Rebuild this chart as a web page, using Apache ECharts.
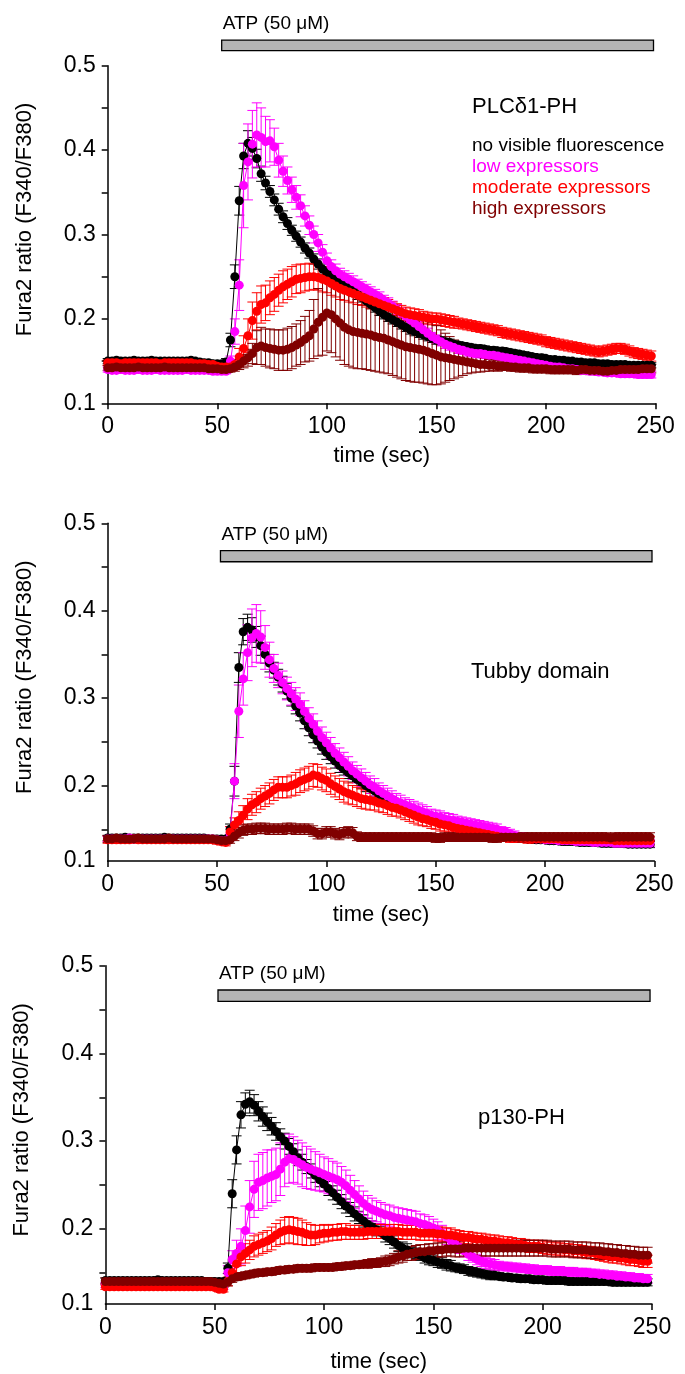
<!DOCTYPE html>
<html><head><meta charset="utf-8">
<script src="https://cdn.jsdelivr.net/npm/echarts@6/dist/echarts.min.js"></script>
<style>html,body{margin:0;padding:0;background:#fff}#c{width:685px;height:1374px}</style>
</head><body><div id="c"></div>
<script>
// ---------- data (ratio values in thousandths) ----------
const TIME = [
0,2,4,6,8,10,12,14,16,18,
20,22,24,26,28,30,32,34,36,38,
40,42,44,46,48,50,52,54,56,58,
60,62,64,66,68,70,72,74,76,78,
80,82,84,86,88,90,92,94,96,98,
100,102,104,106,108,110,112,114,116,118,
120,122,124,126,128,130,132,134,136,138,
140,142,144,146,148,150,152,154,156,158,
160,162,164,166,168,170,172,174,176,178,
180,182,184,186,188,190,192,194,196,198,
200,202,204,206,208,210,212,214,216,218,
220,222,224,226,228,230,232,234,236,238,
240,242,244,246,248];

const SERIES_NAMES = ['no visible fluorescence','low expressors','moderate expressors','high expressors'];
const PANEL_LABELS = ['PLC\u03b41-PH','Tubby domain','p130-PH'];
const ATP_LABEL = 'ATP (50 \u03bcM)';
const ATP_RANGES = [[52,249],[51.6,248.9],[51.5,249.1]];
const X_TICKS_INTERVAL = 50;
const Y_TICKS = [0.15,0.2,0.25,0.3,0.35,0.4,0.45,0.5];
const Y_LABELS = [0.2,0.3,0.4,0.5];

// Panel 1: PLCd1-PH
const P1_NONE = [
150,150,151,150,150,150,151,150,150,150,
151,150,150,150,150,150,150,150,150,151,
150,149,148,148,147,147,147,149,175,250,
340,393,408,402,390,372,361,351,341,330,
321,313,305,298,291,284,278,271,265,259,
255,251,248,245,241,237,233,229,225,221,
217,213,209,205,202,199,196,193,190,187,
185,183,181,179,177,175,174,173,172,170,
169,168,167,166,165,165,164,163,163,162,
162,161,160,159,158,157,156,155,154,154,
153,152,152,151,151,150,150,149,149,148,
148,148,147,147,147,146,146,146,146,145,
145,145,145,145,145];
const P1_NONE_ERR = [
3,3,3,3,3,3,3,3,3,3,
3,3,3,3,3,3,3,3,3,3,
3,3,3,3,3,3,3,4,8,14,
17,15,15,13,11,9,8,7,7,7,
7,7,6,6,6,6,6,6,6,6,
6,6,6,6,6,6,6,6,5,5,
5,5,5,5,5,5,5,5,5,5,
5,5,5,5,5,5,5,4,4,4,
4,4,4,4,4,4,4,4,4,4,
4,4,4,4,4,4,4,4,4,4,
3,3,3,3,3,3,3,3,3,3,
3,3,3,3,3,3,3,3,3,3,
3,3,3,3,3];
const P1_LOW = [
140,139,139,140,139,139,139,140,139,139,
139,140,139,139,139,139,139,139,140,139,
139,139,139,139,138,138,138,138,150,185,
240,358,386,407,418,415,410,411,404,388,
375,364,353,344,334,322,311,300,290,279,
269,262,257,253,250,247,244,241,238,235,
232,229,226,222,219,215,211,207,203,199,
195,191,187,183,179,176,173,170,168,166,
164,163,161,160,159,159,158,157,157,156,
155,154,153,152,151,150,149,148,147,146,
145,144,143,143,142,141,141,140,139,139,
138,138,137,137,136,136,136,135,135,135,
135,134,134,134,134];
const P1_LOW_ERR = [
3,3,3,3,3,3,3,3,3,3,
3,3,3,3,3,3,3,3,3,3,
3,3,3,3,3,3,3,3,6,15,
30,50,45,40,38,35,30,25,22,20,
18,16,15,14,13,12,11,10,10,9,
9,8,8,7,7,7,7,6,6,6,
6,6,6,6,6,6,6,6,6,6,
6,6,6,6,5,5,5,5,5,5,
5,5,5,5,5,5,5,5,5,5,
4,4,4,4,4,4,4,4,4,4,
4,4,4,4,4,4,4,4,4,4,
4,4,4,4,4,4,4,4,4,4,
4,4,4,4,4];
const P1_MOD = [
148,148,148,147,148,148,148,148,148,148,
148,148,147,148,148,148,148,148,148,148,
147,147,147,146,146,144,143,143,143,146,
155,165,180,198,209,217,219,225,229,234,
238,241,244,247,248,249,250,250,249,247,
245,242,239,236,234,232,230,228,226,224,
222,220,218,216,214,212,210,208,206,205,
204,203,202,201,200,200,199,198,197,196,
195,194,193,192,191,190,189,188,187,186,
184,183,182,181,180,179,178,177,176,175,
173,172,171,170,169,168,167,166,165,164,
163,162,161,162,163,164,165,165,164,162,
160,159,158,157,156];
const P1_MOD_ERR = [
3,3,3,3,3,3,3,3,3,3,
3,3,3,3,3,3,3,3,3,3,
3,3,3,3,3,3,3,4,5,6,
10,15,20,22,22,22,21,20,20,19,
19,18,18,17,17,16,16,15,15,15,
14,14,13,13,12,12,11,11,10,10,
10,9,9,9,9,8,8,8,8,8,
8,8,7,7,7,7,7,7,7,7,
6,6,6,6,6,6,6,6,6,6,
6,6,6,6,6,6,6,6,6,6,
6,6,6,6,6,6,6,6,6,6,
6,6,6,6,6,6,6,6,6,6,
6,6,6,6,6];
const P1_HIGH = [
142,142,143,142,142,142,142,143,142,142,
142,142,142,143,142,142,142,142,142,142,
142,142,142,141,141,141,140,140,141,143,
146,150,154,159,166,168,166,165,164,163,
163,164,166,169,172,176,180,188,196,202,
207,205,200,195,190,187,185,184,183,182,
181,179,178,177,175,173,171,169,167,166,
165,164,163,161,159,157,155,154,153,152,
151,150,149,148,147,146,146,145,145,144,
144,144,143,143,142,142,142,141,141,141,
141,140,140,140,140,140,140,139,140,140,
139,139,139,138,138,139,139,140,140,140,
140,140,141,141,141];
const P1_HIGH_ERR = [
3,3,3,3,3,3,3,3,3,3,
3,3,3,3,3,3,3,3,3,3,
3,3,3,3,3,3,3,3,4,5,
6,8,10,12,20,22,22,23,23,24,
24,25,25,25,26,27,30,35,40,45,
45,45,45,44,44,43,43,43,42,42,
42,41,41,41,40,40,40,40,40,40,
40,39,39,38,37,35,32,29,26,23,
20,17,14,12,10,9,8,7,6,6,
5,5,5,5,5,5,5,5,5,5,
5,5,5,5,5,5,5,5,5,5,
5,5,5,5,5,5,5,5,5,5,
5,5,5,5,5];

// Panel 2: Tubby domain
const P2_NONE = [
140,140,140,140,141,140,140,140,140,140,
140,140,140,141,140,140,140,140,140,140,
140,140,140,139,139,139,139,139,150,205,
335,376,381,378,370,360,350,340,332,324,
316,308,300,291,283,274,266,258,251,244,
238,233,228,223,219,215,211,207,204,200,
197,194,190,187,184,181,178,176,174,172,
170,168,166,164,162,161,159,158,156,155,
154,152,151,150,149,148,147,146,145,144,
143,142,141,141,140,140,139,139,138,138,
138,137,137,137,136,136,136,136,135,135,
135,135,135,134,134,134,134,134,134,133,
133,133,133,133,133];
const P2_NONE_ERR = [
3,3,3,3,3,3,3,3,3,3,
3,3,3,3,3,3,3,3,3,3,
3,3,3,3,3,3,3,3,6,17,
17,15,15,14,12,11,10,10,9,9,
9,9,9,9,9,9,9,9,8,8,
8,8,8,8,7,7,7,7,7,7,
6,6,6,6,6,6,6,6,6,6,
6,6,6,5,5,5,5,5,5,5,
4,4,4,4,4,4,4,4,4,4,
4,4,4,4,4,4,4,4,4,4,
4,4,4,4,4,4,4,4,4,4,
4,4,4,4,4,4,4,4,4,4,
4,4,4,4,4];
const P2_LOW = [
139,139,139,139,139,140,139,139,139,139,
139,139,139,139,139,139,139,139,139,139,
139,139,139,139,139,138,137,137,145,205,
285,322,352,369,374,370,358,344,334,326,
318,311,305,299,293,285,277,270,262,255,
249,243,237,232,227,222,217,213,209,205,
201,198,194,191,188,185,182,180,178,176,
174,172,170,168,166,165,164,162,161,160,
159,158,157,156,155,154,153,152,151,150,
148,147,145,143,141,141,140,140,139,139,
138,138,138,137,137,137,137,136,136,136,
136,135,135,135,135,135,134,134,134,134,
134,134,134,134,134];
const P2_LOW_ERR = [
3,3,3,3,3,3,3,3,3,3,
3,3,3,3,3,3,3,3,3,3,
3,3,3,3,3,3,3,3,8,20,
30,30,32,33,33,30,25,20,16,14,
13,13,13,13,13,12,12,12,12,12,
12,12,11,11,11,11,10,10,10,10,
10,10,9,9,9,9,9,9,8,8,
8,8,8,8,7,7,7,7,7,7,
6,6,6,6,6,6,6,6,6,6,
5,5,5,5,5,5,5,5,5,5,
4,4,4,4,4,4,4,4,4,4,
4,4,4,4,4,4,4,4,4,4,
4,4,4,4,4];
const P2_MOD = [
138,138,138,138,138,138,139,138,138,138,
138,138,138,138,138,138,138,138,138,138,
138,138,138,138,138,137,136,135,147,155,
160,166,173,178,181,185,188,191,195,198,
198,198,200,202,205,207,209,212,211,208,
206,202,199,196,193,191,189,187,185,184,
183,182,180,179,177,175,174,172,170,168,
166,164,162,161,159,158,156,155,154,152,
151,150,149,148,147,146,145,144,143,142,
141,141,140,140,140,140,139,139,139,139,
139,139,139,139,138,138,138,138,138,138,
138,138,138,138,138,138,137,137,137,137,
137,137,137,137,137];
const P2_MOD_ERR = [
4,4,4,4,4,4,4,4,4,4,
4,4,4,4,4,4,4,4,4,4,
4,4,4,4,4,4,4,4,6,8,
10,11,12,12,12,12,12,12,12,12,
12,12,12,13,13,13,13,13,13,13,
13,12,12,12,12,12,11,11,11,11,
11,10,10,10,10,10,9,9,9,9,
9,9,8,8,8,8,8,7,7,7,
7,7,7,6,6,6,6,6,6,6,
5,5,5,5,5,5,5,5,5,5,
5,5,5,5,5,5,5,5,5,5,
5,5,5,5,5,5,5,5,5,5,
5,5,5,5,5];
const P2_HIGH = [
139,139,140,139,139,139,139,140,139,139,
139,139,139,139,140,139,139,139,139,139,
139,139,139,139,139,138,137,137,138,142,
146,149,150,150,151,151,151,150,150,150,
150,151,151,150,150,150,150,148,145,145,
147,147,145,144,146,147,146,142,141,141,
141,141,141,141,141,141,141,141,141,141,
141,141,141,141,141,140,140,141,141,141,
141,141,141,141,141,141,141,141,140,140,
141,141,141,141,141,141,141,141,141,141,
141,141,141,141,141,141,141,141,141,141,
141,141,141,141,141,140,141,141,141,141,
141,141,141,141,141];
const P2_HIGH_ERR = [
4,4,4,4,4,4,4,4,4,4,
4,4,4,4,4,4,4,4,4,4,
4,4,4,4,4,4,4,4,4,5,
6,6,6,6,6,6,6,6,6,6,
6,6,6,6,6,6,6,6,6,6,
6,6,6,6,6,6,6,5,5,5,
5,5,5,5,5,5,5,5,5,5,
5,5,5,5,5,5,5,5,5,5,
5,5,5,5,5,5,5,5,5,5,
5,5,5,5,5,5,5,5,5,5,
5,5,5,5,5,5,5,5,5,5,
5,5,5,5,5,5,5,5,5,5,
5,5,5,5,5];

// Panel 3: p130-PH
const P3_NONE = [
141,141,141,141,141,141,141,141,141,141,
141,141,142,141,141,141,141,141,141,141,
141,141,141,140,140,140,140,140,155,240,
290,330,342,345,341,334,328,322,317,311,
305,300,294,288,281,276,271,266,261,256,
251,246,241,236,231,226,222,217,213,209,
205,202,199,196,192,189,185,181,178,176,
173,172,170,167,165,164,162,161,159,158,
156,155,154,152,151,150,149,148,147,147,
146,145,145,144,144,143,143,143,142,142,
142,141,141,141,141,141,140,140,140,140,
140,140,140,140,140,140,139,139,139,139,
139,139,139,139,139];
const P3_NONE_ERR = [
3,3,3,3,3,3,3,3,3,3,
3,3,3,3,3,3,3,3,3,3,
3,3,3,3,3,3,3,3,6,16,
16,15,13,13,12,11,11,10,10,10,
9,9,9,9,9,9,8,8,8,8,
8,8,8,8,8,8,8,8,7,7,
7,7,7,7,7,7,7,7,7,7,
6,6,6,6,6,6,6,6,6,6,
5,5,5,5,5,5,5,5,5,5,
4,4,4,4,4,4,4,4,4,4,
4,4,4,4,4,4,4,4,4,4,
4,4,4,4,4,4,4,4,4,4,
4,4,4,4,4];
const P3_LOW = [
136,136,136,136,136,136,137,136,136,136,
136,136,136,136,136,136,136,136,136,136,
136,136,136,136,135,135,134,134,150,165,
172,180,198,225,245,253,255,258,260,262,
268,276,280,279,276,273,270,268,266,264,
262,260,258,256,253,249,244,239,234,229,
225,222,220,218,216,215,213,212,211,210,
209,208,206,205,203,201,198,195,191,187,
183,179,175,171,168,165,163,161,160,159,
158,157,157,156,156,155,155,154,154,153,
153,153,152,152,152,151,151,151,150,150,
150,149,149,148,148,147,147,146,146,145,
145,144,144,143,143];
const P3_LOW_ERR = [
3,3,3,3,3,3,3,3,3,3,
3,3,3,3,3,3,3,3,3,3,
3,3,3,3,3,3,3,3,8,10,
15,20,28,30,32,32,32,32,30,30,
30,28,28,26,25,25,24,23,22,21,
20,20,19,19,18,18,17,16,15,14,
13,13,12,12,12,12,12,12,12,12,
12,12,11,11,11,10,10,9,9,8,
8,7,7,7,6,6,6,6,6,6,
5,5,5,5,5,5,5,5,5,5,
5,5,5,5,5,5,5,5,5,5,
5,5,5,5,5,5,5,5,5,5,
5,5,5,5,5];
const P3_MOD = [
134,134,134,134,134,134,134,134,134,134,
134,134,134,134,134,134,134,134,134,134,
134,134,134,134,134,133,131,131,140,150,
160,168,172,176,180,182,184,186,189,193,
196,198,199,198,197,196,194,193,193,194,
195,195,196,196,197,197,196,196,196,196,
197,197,197,197,197,197,197,197,196,196,
196,196,195,195,195,195,194,194,193,193,
192,191,190,190,189,188,188,187,186,186,
185,184,184,183,182,182,181,180,180,180,
179,178,178,177,177,176,176,175,175,174,
173,173,172,171,170,169,168,168,167,166,
165,165,164,163,163];
const P3_MOD_ERR = [
3,3,3,3,3,3,3,3,3,3,
3,3,3,3,3,3,3,3,3,3,
3,3,3,3,3,3,3,3,5,8,
10,10,11,11,12,12,12,12,13,13,
14,15,15,15,15,14,13,12,11,10,
10,9,9,9,9,9,8,8,8,8,
8,8,8,8,8,8,8,8,8,8,
8,8,8,8,8,8,8,8,8,8,
7,7,7,7,7,7,7,7,7,7,
7,7,7,7,7,7,7,7,7,7,
7,7,7,7,7,7,7,7,7,7,
7,7,7,7,7,7,7,7,7,7,
7,7,7,7,7];
const P3_HIGH = [
140,140,140,140,140,140,140,140,140,140,
140,140,140,140,140,140,140,140,140,140,
140,140,140,140,140,139,138,137,139,143,
145,146,147,148,149,150,150,151,151,152,
153,153,154,154,155,155,155,155,156,156,
156,156,156,157,157,158,158,159,159,160,
160,161,161,162,163,164,166,168,169,171,
172,173,174,174,175,175,176,176,177,177,
177,177,178,178,178,178,178,178,178,178,
178,178,178,178,178,178,178,178,178,178,
178,178,177,177,177,177,177,176,176,176,
176,175,175,175,174,174,173,173,172,172,
171,171,170,170,170];
const P3_HIGH_ERR = [
4,4,4,4,4,4,4,4,4,4,
4,4,4,4,4,4,4,4,4,4,
4,4,4,4,4,4,4,4,4,4,
4,4,4,4,4,4,4,4,4,4,
4,4,4,4,4,4,4,4,4,4,
4,4,4,4,4,4,4,4,4,4,
5,5,5,5,6,6,6,7,7,7,
8,8,8,8,8,8,8,8,8,8,
9,9,9,9,9,9,9,9,9,9,
9,9,9,9,9,9,9,9,9,9,
9,9,9,9,9,9,9,9,9,9,
9,9,9,9,9,9,9,9,9,9,
9,9,9,9,9];

const PANEL_DATA = [
  [[P1_NONE,P1_NONE_ERR],[P1_LOW,P1_LOW_ERR],[P1_MOD,P1_MOD_ERR],[P1_HIGH,P1_HIGH_ERR]],
  [[P2_NONE,P2_NONE_ERR],[P2_LOW,P2_LOW_ERR],[P2_MOD,P2_MOD_ERR],[P2_HIGH,P2_HIGH_ERR]],
  [[P3_NONE,P3_NONE_ERR],[P3_LOW,P3_LOW_ERR],[P3_MOD,P3_MOD_ERR],[P3_HIGH,P3_HIGH_ERR]]
];

// ---------- styling / layout ----------
const COLORS = ['#000000','#ff00ff','#ff0000','#800000'];
const FONT = '"Liberation Sans", Arial, Helvetica, sans-serif';
const LAYOUT = [
  {left:107.7, top:65.7, width:548, height:337.6, yMin:0.1, atpY:[0.5178,0.5304], lbl:[472,106.7], xGap:42},
  {left:107.6, top:523.3, width:546.8, height:337.7, yMin:0.1137, atpY:[0.456,0.4687], lbl:[471,671.7], xGap:43},
  {left:105.4, top:965.7, width:546.6, height:338.3, yMin:0.1143, atpY:[0.4594,0.4723], lbl:[478,1118], xGap:47}
];

function errRender(params, api){
  const t = api.value(0), lo = api.value(1), hi = api.value(2);
  const a = api.coord([t, lo]), b = api.coord([t, hi]);
  const hw = 5;
  const style = {stroke: api.visual('color'), lineWidth: 1};
  return {type:'group', children:[
    {type:'line', shape:{x1:a[0],y1:a[1],x2:b[0],y2:b[1]}, style:style},
    {type:'line', shape:{x1:a[0]-hw,y1:a[1],x2:a[0]+hw,y2:a[1]}, style:style},
    {type:'line', shape:{x1:b[0]-hw,y1:b[1],x2:b[0]+hw,y2:b[1]}, style:style}
  ]};
}

const grids=[], xAxes=[], yAxes=[], series=[];
LAYOUT.forEach((L,k)=>{
  grids.push({left:L.left, top:L.top, width:L.width, height:L.height, containLabel:false, outerBoundsMode:'none'});
  xAxes.push({type:'value', gridIndex:k, min:0, max:250, interval:X_TICKS_INTERVAL,
    axisLine:{show:true, onZero:false, lineStyle:{color:'#000', width:1.5}},
    axisTick:{show:true, inside:false, length:6, lineStyle:{color:'#000', width:1.5}},
    axisLabel:{show:true, margin:12, fontSize:23, color:'#000', fontFamily:FONT, showMinLabel:true, showMaxLabel:true},
    splitLine:{show:false},
    name:'time (sec)', nameLocation:'middle', nameGap:L.xGap,
    nameTextStyle:{fontSize:22, color:'#000', fontFamily:FONT}});
  const ticks = k===0 ? [0.1].concat(Y_TICKS) : Y_TICKS;
  const labels = [L.yMin].concat(Y_LABELS);
  yAxes.push({type:'value', gridIndex:k, min:L.yMin, max:0.5,
    axisLine:{show:true, onZero:false, lineStyle:{color:'#000', width:1.5}},
    axisTick:{show:true, inside:false, length:6, customValues:ticks, lineStyle:{color:'#000', width:1.5}},
    axisLabel:{show:true, customValues:labels, margin:12, fontSize:23, color:'#000', fontFamily:FONT,
      formatter:(v)=>Number(v).toFixed(1)},
    splitLine:{show:false},
    name:'Fura2 ratio (F340/F380)', nameLocation:'middle', nameGap:72,
    nameTextStyle:{fontSize:22, color:'#000', fontFamily:FONT, padding:[0,0,0,30]}});
  // ATP bar
  series.push({type:'custom', xAxisIndex:k, yAxisIndex:k, clip:false, silent:true,
    data:[[ATP_RANGES[k][0], ATP_RANGES[k][1]]],
    renderItem:(params, api)=>{
      const p0 = api.coord([api.value(0), L.atpY[1]]);
      const p1 = api.coord([api.value(1), L.atpY[0]]);
      return {type:'group', children:[
        {type:'rect', shape:{x:p0[0], y:p0[1], width:p1[0]-p0[0], height:p1[1]-p0[1]},
          style:{fill:'#b4b4b4', stroke:'#000', lineWidth:1.3}},
        {type:'text', x:p0[0]+1, y:p0[1]-16,
          style:{text:ATP_LABEL, fill:'#000', font:'19px '+FONT, textAlign:'left', textVerticalAlign:'middle', align:'left', verticalAlign:'middle'}}
      ]};
    }});
  PANEL_DATA[k].forEach((pair,s)=>{
    const vals = pair[0], errs = pair[1];
    series.push({type:'custom', name:SERIES_NAMES[s], xAxisIndex:k, yAxisIndex:k, silent:true,
      itemStyle:{color:COLORS[s]}, renderItem:errRender, encode:{x:0, y:[1,2]},
      data: TIME.map((t,i)=>[t, (vals[i]-errs[i])/1000, (vals[i]+errs[i])/1000])});
    series.push({type:'line', name:SERIES_NAMES[s], xAxisIndex:k, yAxisIndex:k, silent:true,
      symbol:'circle', symbolSize:9, showSymbol:true, showAllSymbol:true,
      lineStyle:{width:1, color:COLORS[s]}, itemStyle:{color:COLORS[s]},
      data: TIME.map((t,i)=>[t, vals[i]/1000])});
  });
});

const graphics = PANEL_LABELS.map((txt,k)=>({type:'text', x:LAYOUT[k].lbl[0], y:LAYOUT[k].lbl[1],
  style:{text:txt, fill:'#000', font:'22px '+FONT, textVerticalAlign:'middle', verticalAlign:'middle'}}));

const chart = echarts.init(document.getElementById('c'), null, {renderer:'canvas'});
chart.setOption({
  animation:false,
  backgroundColor:'#fff',
  grid:grids, xAxis:xAxes, yAxis:yAxes, series:series,
  graphic:graphics,
  legend:{show:true, left:467, top:135.5, orient:'vertical', icon:'none', itemWidth:0, itemHeight:10,
    itemGap:1, selectedMode:false, padding:0,
    textStyle:{fontSize:19, fontFamily:FONT, lineHeight:20},
    data: SERIES_NAMES.map((n,i)=>({name:n, textStyle:{color:COLORS[i]}}))}
});
</script></body></html>
